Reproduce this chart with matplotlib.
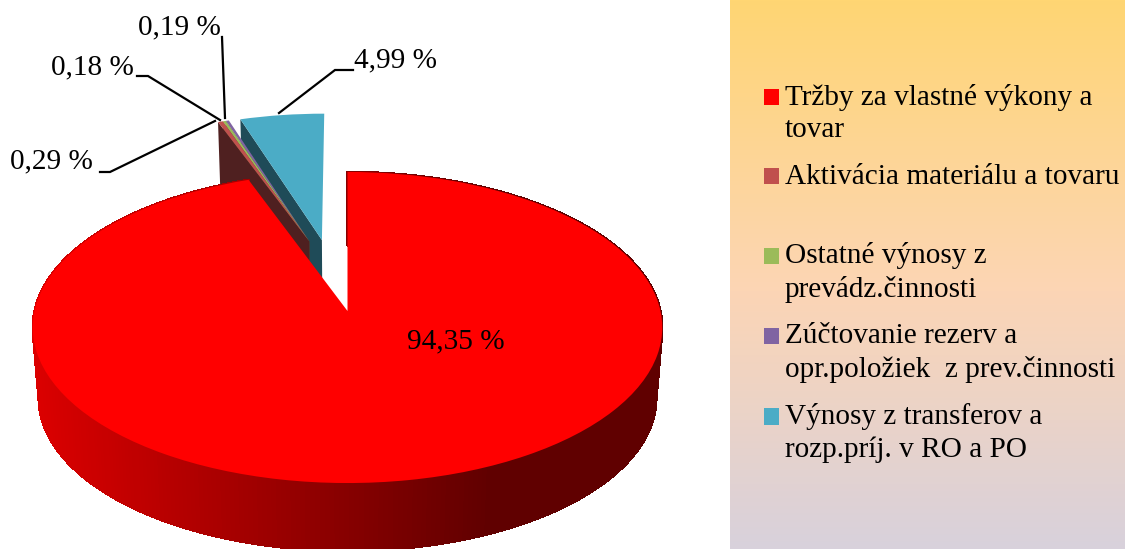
import numpy as np
import matplotlib
matplotlib.use("Agg")
import matplotlib.pyplot as plt
from matplotlib.collections import PolyCollection
from matplotlib.colors import to_rgb
from matplotlib.legend_handler import HandlerPatch
from matplotlib.patches import Rectangle
from matplotlib.transforms import Transform

plt.rcParams['font.family'] = ['Liberation Serif', 'DejaVu Serif']

categories = ['Tržby za vlastné výkony a\ntovar',
              'Aktivácia materiálu a tovaru\n ',
              'Ostatné výnosy z\nprevádz.činnosti',
              'Zúčtovanie rezerv a\nopr.položiek  z prev.činnosti',
              'Výnosy z transferov a\nrozp.príj. v RO a PO']
values = [94.35, 0.29, 0.18, 0.19, 4.99]
value_labels = ['94,35 %', '0,29 %', '0,18 %', '0,19 %', '4,99 %']
colors = ['#FF0000', '#C0504D', '#9BBB59', '#8064A2', '#4BACC6']
wall_colors = ['#800000', '#4F2020', '#4F5F2D', '#403251', '#1F4B58']
explode = [0, 0.5, 0.5, 0.5, 0.49]
small_offset = (-0.128, 0.475)   # the three thin slices are pulled out together
blue_offset = (-0.086, 0.485)

W, H = 1125, 549
FS_PX = 29.3
FS = FS_PX * 72 / 100


class Persp(Transform):
    input_dims = output_dims = 2
    is_separable = False
    has_inverse = False

    def __init__(self, x0, y0, a, b, k):
        super().__init__()
        self.p = (x0, y0, a, b, k)

    def transform_non_affine(self, v):
        v = np.asarray(v, float)
        x0, y0, a, b, k = self.p
        w = 1 + k * v[:, 1]
        return np.column_stack([x0 + a * v[:, 0] / w, y0 - b * v[:, 1] / w])


top = Persp(347.5, 311, 313, 153.8, 0.106)
bottom = Persp(347.5, 382, 307, 151, 0.106)

fig = plt.figure(figsize=(W / 100, H / 100), dpi=100, facecolor='white')
ax = fig.add_axes([0, 0, 1, 1])

wedges, _ = ax.pie(values, explode=explode, colors=colors, startangle=90,
                   counterclock=False, radius=1, wedgeprops={'linewidth': 0})
for w in wedges[1:4]:
    w.set_center(small_offset)
wedges[4].set_center(blue_offset)
for i, w in enumerate(wedges):
    w.set_transform(top + ax.transData)
    w.set_zorder({0: 7, 1: 5.3, 2: 5.2, 3: 5.1, 4: 3}[i])


def radial_wall(w):
    """Cut face on the left edge of an exploded slice."""
    cx, cy = w.center
    t = np.radians(w.theta2)
    pts = np.array([[cx, cy], [cx + np.cos(t), cy + np.sin(t)]])
    return np.vstack([top.transform(pts), bottom.transform(pts)[::-1]])


for i, z in [(4, 2), (3, 4.1), (2, 4.2), (1, 4.3)]:
    ax.fill(*radial_wall(wedges[i]).T, color=wall_colors[i], lw=0, zorder=z)

# curved outer wall of the large slice, shaded by horizontal position
t = np.radians(np.linspace(wedges[0].theta1, wedges[0].theta2, 421))
rim = np.column_stack([np.cos(t), np.sin(t)])
rt, rb = top.transform(rim), bottom.transform(rim)
quads = [np.vstack([rt[j], rt[j + 1], rb[j + 1], rb[j]]) for j in range(len(t) - 1)]
mid = np.array([q[:, 0].mean() for q in quads])
c0, c1 = np.array(to_rgb('#DC0000')), np.array(to_rgb('#600000'))
f = np.clip((mid - 35) / (490 - 35), 0, 1)[:, None]
shade = c0 + (c1 - c0) * f
ax.add_collection(PolyCollection(quads, facecolors=shade, edgecolors=shade,
                                 linewidths=1.0, antialiaseds=False, zorder=6))

# gradient panel behind the legend
stops = np.array([to_rgb(c) for c in ['#FFD673', '#FCD5B5', '#D8D1DC']])
pos = [0, 0.53, 1]
yy = np.linspace(0, 1, 549)
grad = np.stack([np.interp(yy, pos, stops[:, c]) for c in range(3)], axis=1)[:, None, :]
ax.imshow(grad, extent=(730, W, H, 0), aspect='auto', zorder=0)

ax.set_aspect('auto')
ax.set_xlim(0, W)
ax.set_ylim(H, 0)
ax.axis('off')


def first_line_patch(legend, orig_handle, xdescent, ydescent, width, height, fontsize):
    return Rectangle((-xdescent, -ydescent + 0.56 * fontsize), width, height)


handles = [Rectangle((0, 0), 1, 1, facecolor=c) for c in colors]
leg = ax.legend(handles, categories, loc='upper left',
                bbox_to_anchor=(764, 84), bbox_transform=ax.transData,
                frameon=False, fontsize=FS, borderpad=0, borderaxespad=0,
                handlelength=15 / FS_PX, handleheight=14 / FS_PX,
                handletextpad=6 / FS_PX, labelspacing=0.695,
                handler_map={Rectangle: HandlerPatch(patch_func=first_line_patch)})
leg.set_zorder(10)
for txt in leg.get_texts():
    txt.set_linespacing(1.316)

# data labels and leader lines
label_xy = [(456, 341), (51, 161), (92, 67), (179, 27), (395, 60)]
for s, (x, y) in zip(value_labels, label_xy):
    ax.text(x, y, s, fontsize=FS, ha='center', va='center', color='black', zorder=10)

leader_paths = [([100, 110, 215], [172, 172, 121]),
                ([137, 148, 220], [76, 76, 120]),
                ([222, 225], [37, 118]),
                ([353, 335, 279], [70, 70, 113])]
for xs, ys in leader_paths:
    ax.plot(xs, ys, color='black', lw=1.6, zorder=9, solid_joinstyle='miter')

fig.savefig('out.png', dpi=100)
